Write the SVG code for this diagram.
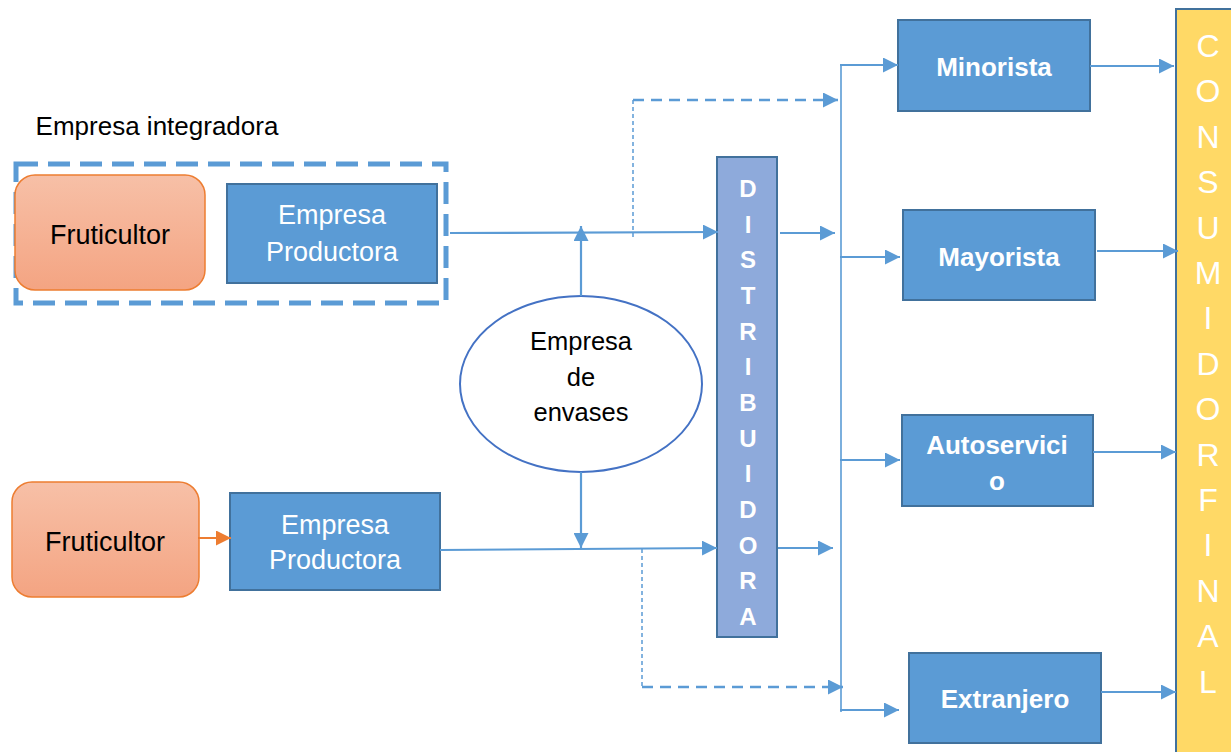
<svg xmlns="http://www.w3.org/2000/svg" width="1231" height="752" viewBox="0 0 1231 752">
<defs>
<linearGradient id="gOr" x1="0" y1="0" x2="0" y2="1">
<stop offset="0" stop-color="#f7c0a7"/>
<stop offset="1" stop-color="#f4a482"/>
</linearGradient>
<marker id="ah" viewBox="0 0 10 10" refX="10" refY="5" markerWidth="15" markerHeight="15" markerUnits="userSpaceOnUse" orient="auto">
<path d="M0,0 L10,5 L0,10 z" fill="#5b9bd5"/>
</marker>
<marker id="ahO" viewBox="0 0 10 10" refX="10" refY="5" markerWidth="15" markerHeight="15" markerUnits="userSpaceOnUse" orient="auto">
<path d="M0,0 L10,5 L0,10 z" fill="#ed7d31"/>
</marker>
</defs>
<style>
.fr{fill:url(#gOr);stroke:#ed7d31;stroke-width:1.5}
.bx{fill:#5b9bd5;stroke:#41719c;stroke-width:2}
.t{font-family:"Liberation Sans",Arial,sans-serif;text-anchor:middle}
.blk{fill:#000;font-size:27px}
.wr{fill:#fff;font-size:27px}
.wb{fill:#fff;font-size:26px;font-weight:bold}
.dl{fill:#fff;font-size:24px;font-weight:bold}
.cl{fill:#fff;font-size:32px}
.ln{fill:none;stroke:#5b9bd5;stroke-width:2.2}
.th{fill:none;stroke:#5b9bd5;stroke-width:1.6}
</style>
<rect width="1231" height="752" fill="#fff"/>

<g id="integradora">
<rect x="16" y="164" width="430" height="139" fill="none" stroke="#5b9bd5" stroke-width="5" stroke-dasharray="22 10"/>
<text class="t" x="157" y="135" style="font-size:26px;fill:#000">Empresa integradora</text>
</g>

<g id="fruticultor1">
<rect class="fr" x="15" y="175" width="190" height="115" rx="20"/>
<text class="t blk" x="110" y="244">Fruticultor</text>
</g>
<g id="productora1">
<rect class="bx" x="227" y="184" width="210" height="99"/>
<text class="t wr" x="332" y="224">Empresa</text>
<text class="t wr" x="332" y="261">Productora</text>
</g>

<g id="fruticultor2">
<rect class="fr" x="12" y="482" width="187" height="115" rx="20"/>
<text class="t blk" x="105" y="551">Fruticultor</text>
</g>
<g id="productora2">
<rect class="bx" x="230" y="493" width="210" height="97"/>
<text class="t wr" x="335" y="534">Empresa</text>
<text class="t wr" x="335" y="569">Productora</text>
</g>

<g id="envases">
<ellipse cx="581" cy="384" rx="121" ry="88" fill="#fff" stroke="#4472c4" stroke-width="2"/>
<text class="t" x="581" y="350" style="font-size:25.5px;fill:#000">Empresa</text>
<text class="t" x="581" y="386" style="font-size:25.5px;fill:#000">de</text>
<text class="t" x="581" y="421" style="font-size:25.5px;fill:#000">envases</text>
</g>

<g id="distribuidora">
<rect x="717" y="157" width="60" height="480" fill="#8eaadb" stroke="#41719c" stroke-width="2"/>
<text class="t dl" x="748" y="197">D</text>
<text class="t dl" x="748" y="232.7">I</text>
<text class="t dl" x="748" y="268.3">S</text>
<text class="t dl" x="748" y="304">T</text>
<text class="t dl" x="748" y="339.7">R</text>
<text class="t dl" x="748" y="375.3">I</text>
<text class="t dl" x="748" y="411">B</text>
<text class="t dl" x="748" y="446.7">U</text>
<text class="t dl" x="748" y="482.3">I</text>
<text class="t dl" x="748" y="518">D</text>
<text class="t dl" x="748" y="553.7">O</text>
<text class="t dl" x="748" y="589.3">R</text>
<text class="t dl" x="748" y="625">A</text>
</g>

<g id="minorista">
<rect class="bx" x="898" y="20" width="192" height="91"/>
<text class="t wb" x="994" y="76">Minorista</text>
</g>
<g id="mayorista">
<rect class="bx" x="903" y="210" width="192" height="90"/>
<text class="t wb" x="999" y="266">Mayorista</text>
</g>
<g id="autoservicio">
<rect class="bx" x="902" y="415" width="191" height="91"/>
<text class="t wb" x="997" y="454">Autoservici</text>
<text class="t wb" x="997" y="490">o</text>
</g>
<g id="extranjero">
<rect class="bx" x="909" y="653" width="192" height="90"/>
<text class="t wb" x="1005" y="708">Extranjero</text>
</g>

<g id="consumidor">
<rect x="1176" y="9" width="80" height="760" fill="#ffd966" stroke="#41719c" stroke-width="2"/>
<text class="t cl" x="1208" y="57">C</text>
<text class="t cl" x="1208" y="102.4">O</text>
<text class="t cl" x="1208" y="147.8">N</text>
<text class="t cl" x="1208" y="193.2">S</text>
<text class="t cl" x="1208" y="238.6">U</text>
<text class="t cl" x="1208" y="284">M</text>
<text class="t cl" x="1208" y="329.4">I</text>
<text class="t cl" x="1208" y="374.8">D</text>
<text class="t cl" x="1208" y="420.2">O</text>
<text class="t cl" x="1208" y="465.6">R</text>
<text class="t cl" x="1208" y="511">F</text>
<text class="t cl" x="1208" y="556.4">I</text>
<text class="t cl" x="1208" y="601.8">N</text>
<text class="t cl" x="1208" y="647.2">A</text>
<text class="t cl" x="1208" y="692.6">L</text>
</g>

<g id="connectors">
<path d="M198,538 H231" fill="none" stroke="#ed7d31" stroke-width="2.2" marker-end="url(#ahO)"/>
<path class="ln" d="M450,233 L718,232" marker-end="url(#ah)"/>
<path class="ln" d="M581,296 V226" marker-end="url(#ah)"/>
<path d="M633,237 V100" fill="none" stroke="#5b9bd5" stroke-width="1.5" stroke-dasharray="4 3"/>
<path d="M633,100 H838" fill="none" stroke="#5b9bd5" stroke-width="2.5" stroke-dasharray="11 7" marker-end="url(#ah)"/>
<path class="ln" d="M780,233 H835" marker-end="url(#ah)"/>
<path class="ln" d="M440,550 L717,548" marker-end="url(#ah)"/>
<path class="ln" d="M581,472 V548" marker-end="url(#ah)"/>
<path d="M642,549 V687" fill="none" stroke="#5b9bd5" stroke-width="1.5" stroke-dasharray="4 3"/>
<path d="M642,687 H843" fill="none" stroke="#5b9bd5" stroke-width="2.5" stroke-dasharray="11 7" marker-end="url(#ah)"/>
<path class="ln" d="M778,548 H833" marker-end="url(#ah)"/>
<path class="th" d="M841,64 V712"/>
<path class="ln" d="M840,65 H898" marker-end="url(#ah)"/>
<path class="ln" d="M840,257 H900" marker-end="url(#ah)"/>
<path class="ln" d="M840,460 H900" marker-end="url(#ah)"/>
<path class="ln" d="M840,710 H899" marker-end="url(#ah)"/>
<path class="ln" d="M1090,66 H1174" marker-end="url(#ah)"/>
<path class="ln" d="M1097,251 H1178" marker-end="url(#ah)"/>
<path class="ln" d="M1093,452 H1176" marker-end="url(#ah)"/>
<path class="ln" d="M1101,692 H1176" marker-end="url(#ah)"/>
</g>
</svg>
